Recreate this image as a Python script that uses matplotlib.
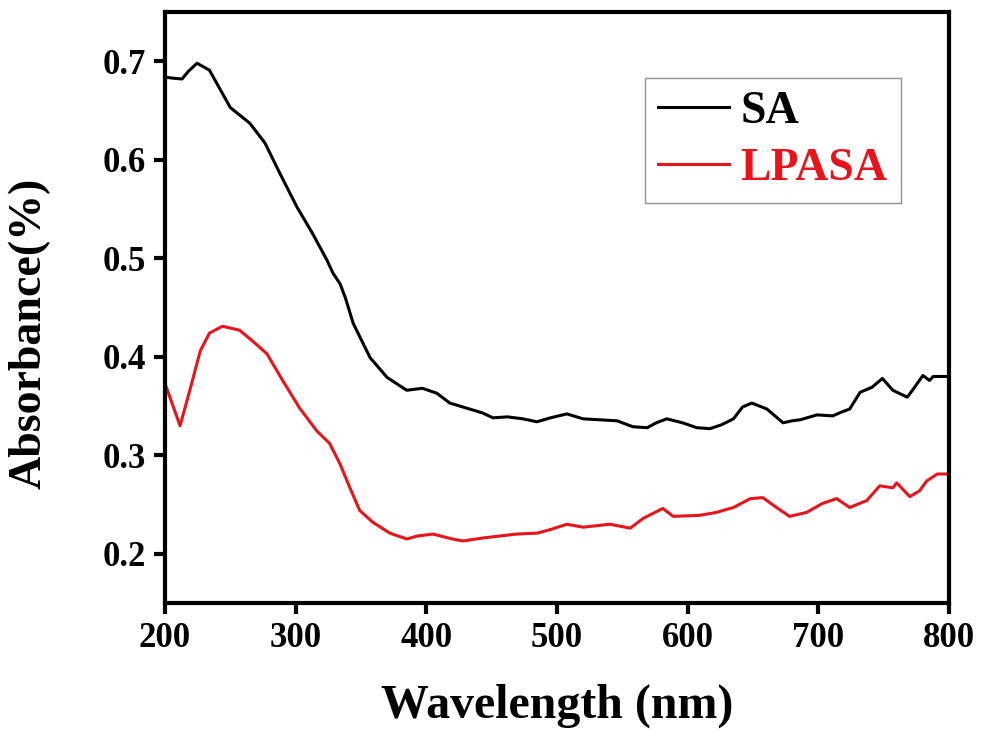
import matplotlib
matplotlib.use("Agg")
import matplotlib.pyplot as plt

# UV-Vis absorbance spectra
sa_wl = [200, 205, 213, 218, 224.5, 234, 250, 265, 276.5, 288, 301, 313, 324, 328.5,
         334, 338, 344, 357, 370, 385, 397, 408, 418, 433, 443, 451, 462, 474, 484.6,
         495, 507.5, 520, 533, 546, 558, 569, 576, 584, 590, 596, 607, 617, 626, 635,
         642, 649, 660.6, 673, 680, 686, 699, 711, 718, 724, 732, 741, 749, 757, 768,
         772, 780, 785, 788, 800]
sa_abs = [0.684, 0.683, 0.682, 0.690, 0.698, 0.691, 0.653, 0.637, 0.617, 0.586, 0.552,
          0.525, 0.498, 0.485, 0.474, 0.460, 0.434, 0.399, 0.379, 0.366, 0.368, 0.363,
          0.353, 0.347, 0.343, 0.338, 0.339, 0.337, 0.334, 0.338, 0.342, 0.337, 0.336,
          0.335, 0.329, 0.328, 0.333, 0.337, 0.335, 0.333, 0.328, 0.327, 0.331, 0.337,
          0.349, 0.353, 0.347, 0.333, 0.335, 0.336, 0.341, 0.340, 0.344, 0.347, 0.364,
          0.369, 0.378, 0.366, 0.359, 0.366, 0.381, 0.376, 0.380, 0.380]

lpasa_wl = [200, 211.5, 219, 227, 234, 244, 257, 267, 278, 290, 303, 316, 326,
            334, 341.5, 349, 359, 372, 385, 393, 405, 420, 428, 443, 456, 469, 485,
            496, 507.5, 520, 540.5, 556, 566, 581, 589, 609, 622, 635, 648, 657.5,
            668, 678, 691, 703, 714, 724, 737, 747, 757, 760, 770, 777.5, 783, 791, 800]
lpasa_abs = [0.373, 0.330, 0.366, 0.406, 0.424, 0.431, 0.427, 0.416, 0.403,
             0.376, 0.348, 0.325, 0.312, 0.291, 0.267, 0.244, 0.232, 0.221, 0.215,
             0.218, 0.220, 0.215, 0.213, 0.216, 0.218, 0.220, 0.221, 0.225, 0.230,
             0.227, 0.230, 0.226, 0.236, 0.246, 0.238, 0.239, 0.242, 0.247, 0.256,
             0.257, 0.247, 0.238, 0.242, 0.251, 0.256, 0.247, 0.254, 0.269, 0.267,
             0.272, 0.258, 0.264, 0.274, 0.281, 0.281]

x_ticks = [200, 300, 400, 500, 600, 700, 800]
y_ticks = [0.2, 0.3, 0.4, 0.5, 0.6, 0.7]
y_tick_labels = ["0.2", "0.3", "0.4", "0.5", "0.6", "0.7"]

plt.rcParams["font.family"] = ["Liberation Serif", "DejaVu Serif"]
plt.rcParams["font.weight"] = "bold"

fig = plt.figure(figsize=(9.81, 7.29), dpi=100)
ax = fig.add_axes([0.1682, 0.1728, 0.7992, 0.8107])

ax.plot(sa_wl, sa_abs, color="black", lw=2.2, label="SA")
ax.plot(lpasa_wl, lpasa_abs, color="#e8141b", lw=2.2, label="LPASA")

ax.set_xlim(200, 800)
ax.set_ylim(0.15, 0.75)
ax.set_xticks(x_ticks)
ax.set_xticklabels([str(t) for t in x_ticks])
ax.set_yticks(y_ticks)
ax.set_yticklabels(y_tick_labels)

for s in ax.spines.values():
    s.set_linewidth(3.0)
ax.tick_params(direction="out", length=8, width=3.0, labelsize=25, pad=6)
for lab in ax.get_xticklabels() + ax.get_yticklabels():
    lab.set_fontweight("bold")

ax.set_xlabel("Wavelength (nm)", fontsize=34.5, fontweight="bold")
ax.xaxis.set_label_coords(0.5, -0.136)
ax.set_ylabel("Absorbance(%)", fontsize=33, fontweight="bold")
ax.yaxis.set_label_coords(-0.146, 0.457)

leg = ax.legend(loc="upper left", bbox_to_anchor=(0.6125, 0.888), fontsize=33,
                frameon=True, fancybox=False, edgecolor="#777777",
                handlelength=1.55, handletextpad=0.25, labelspacing=0.33,
                borderpad=0.28, borderaxespad=0.0, labelcolor="linecolor")
leg.get_frame().set_linewidth(1.0)
for t in leg.get_texts():
    t.set_fontweight("bold")

fig.savefig("out.png", dpi=100)
